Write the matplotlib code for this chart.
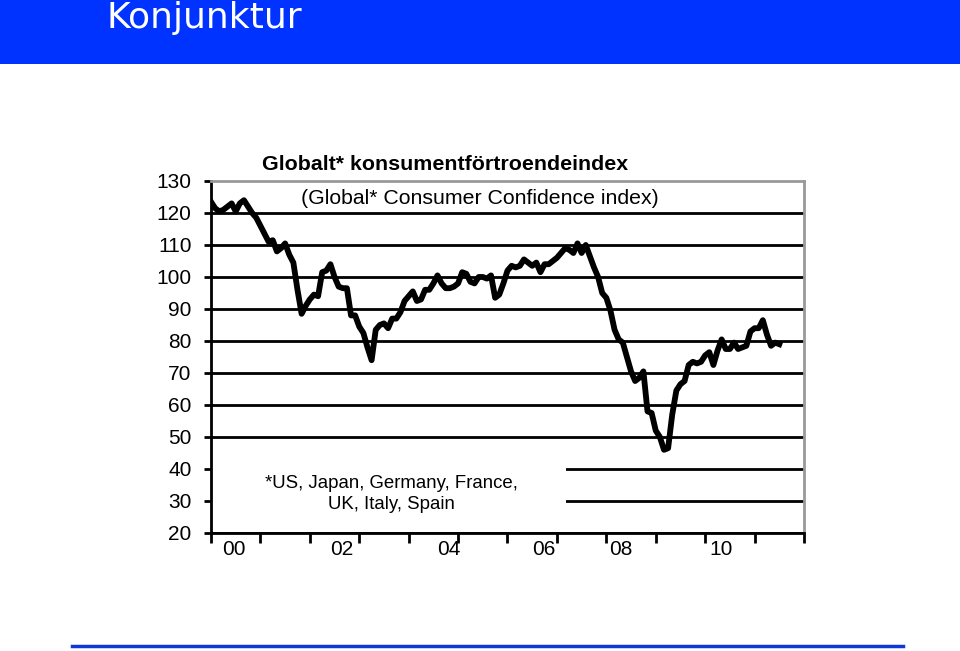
import numpy as np
import matplotlib
matplotlib.use('Agg')
import matplotlib.pyplot as plt
from matplotlib.patches import Rectangle
from matplotlib.lines import Line2D

plt.rcParams['font.family'] = ['Liberation Sans', 'DejaVu Sans']

#%% DATA (monthly, Jan 2000 onwards)

cci = [123.5, 121.5, 120.5, 121, 122, 123, 120.5, 123, 124, 122, 120, 118.5,
       116, 113.5, 111, 111.5, 108, 109, 110.5, 107, 104.5, 96, 88.5, 91,
       93, 94.5, 94, 101.5, 102, 104, 100, 97, 96.5, 96.5, 88, 88,
       84.5, 82.5, 78, 74, 83.5, 85, 85.5, 84, 87, 87, 89, 92.5,
       94, 95.5, 92.5, 93, 96, 96, 98, 100.5, 98, 96.5, 96.5, 97,
       98, 101.5, 101, 98.5, 98, 100, 100, 99.5, 100.5, 93.5, 94.5, 98,
       102, 103.5, 103, 103.5, 105.5, 104.5, 103.5, 104.5, 101.5, 104, 104, 105,
       106, 107.5, 109, 108.5, 107.5, 110.5, 107.5, 110, 106.5, 103, 100, 95,
       93.5, 89.5, 83.5, 80.5, 79.5, 75, 70.5, 67.5, 68.5, 70.5, 58, 57.5,
       52, 50, 46, 46.5, 57, 64.5, 66.5, 67.5, 72.5, 73.5, 73, 73.5,
       75.5, 76.5, 72.5, 77, 80.5, 77.5, 77.5, 79.5, 77.5, 78, 78.5, 83,
       84, 84, 86.5, 82, 78.5, 79.5, 79]

year_labels = ['00', '02', '04', '06', '08', '10']
y_ticks = list(range(20, 131, 10))

title = 'Globalt* konsumentförtroendeindex'
subtitle = '(Global* Consumer Confidence index)'
footnote = '*US, Japan, Germany, France,\nUK, Italy, Spain'

t = np.arange(len(cci)) / 12.0

#%% FIGURE

fig = plt.figure(figsize=(9.6, 6.51), dpi=100)

# blue header bar + bottom rule
fig.add_artist(Rectangle((0, 1 - 64/651), 1, 64/651, transform=fig.transFigure,
                         facecolor='#0033ff', edgecolor='none'))
fig.text(107/960, 1 - 28/651, 'Konjunktur', color='white', fontsize=26,
         family='DejaVu Sans', va='baseline', ha='left')
fig.add_artist(Line2D([72/960, 903/960], [1 - 646/651]*2, transform=fig.transFigure,
                      color='#1038d8', lw=2.5))

ax = fig.add_axes([211/960, 1 - 533/651, 593/960, 352/651])
ax.plot(t, cci, color='black', lw=4.2, solid_joinstyle='round', zorder=3)

ax.set_xlim(0, 12)
ax.set_ylim(20, 130)
ax.set_yticks(y_ticks)
ax.yaxis.grid(True, color='black', lw=2)
ax.get_ygridlines()[-1].set_visible(False)

# white box behind the footnote
ax.add_patch(Rectangle((0, 24), 7.19, 22, facecolor='white', edgecolor='none', zorder=1.7))
ax.text(3.66, 32.3, footnote, ha='center', va='center', fontsize=13.4,
        linespacing=1.3, zorder=4)

ax.set_xticks(range(13))
ax.set_xticklabels([])
ax.set_xticks([0.47, 2.65, 4.82, 6.74, 8.30, 10.32], minor=True)
ax.set_xticklabels(year_labels, minor=True)
ax.tick_params(axis='x', which='major', direction='out', length=7, width=2)
ax.tick_params(axis='x', which='minor', length=0, pad=5, labelsize=15)
ax.tick_params(axis='y', direction='out', length=5, width=2, pad=9, labelsize=15)

for s in ['left', 'bottom']:
    ax.spines[s].set_color('black')
    ax.spines[s].set_linewidth(2)
for s in ['top', 'right']:
    ax.spines[s].set_color('#999999')
    ax.spines[s].set_linewidth(2)

fig.text(445/960, 1 - 165/651, title, ha='center', va='center', fontsize=15.4,
         weight='bold')
fig.text(480/960, 1 - 198/651, subtitle, ha='center', va='center', fontsize=15.3)

fig.savefig('out.png', dpi=100)
